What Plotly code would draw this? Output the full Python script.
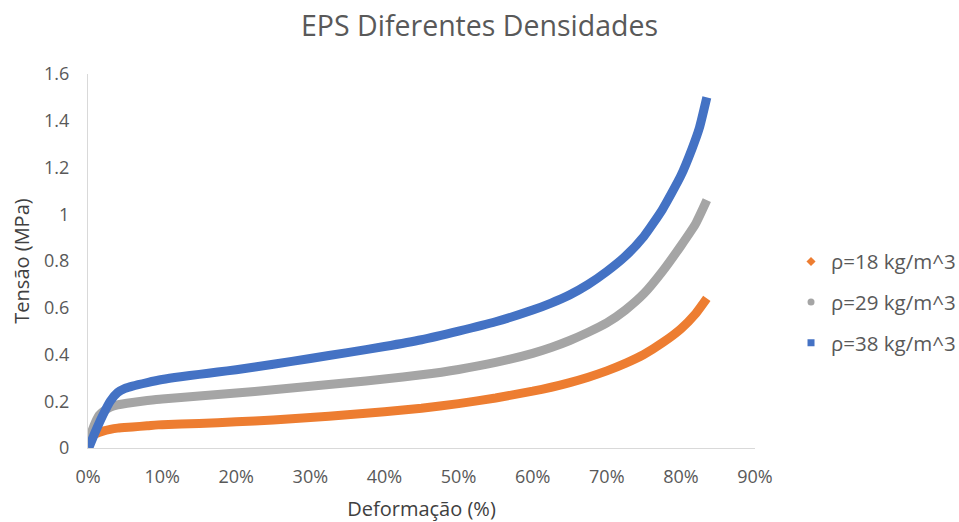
import plotly.graph_objects as go

# Stress-strain curves of EPS at three densities (strain as fraction, stress in MPa)
strain_18 = [0.0, 0.005, 0.01, 0.02, 0.03, 0.04, 0.06, 0.08, 0.10, 0.15, 0.20, 0.25, 0.30,
             0.35, 0.40, 0.45, 0.50, 0.55, 0.60, 0.625, 0.65, 0.675, 0.70, 0.725, 0.75,
             0.775, 0.80, 0.82, 0.835]
stress_18 = [0.035, 0.05, 0.06, 0.072, 0.08, 0.085, 0.09, 0.095, 0.10, 0.105, 0.112, 0.12, 0.13,
             0.142, 0.155, 0.17, 0.19, 0.214, 0.243, 0.26, 0.28, 0.303, 0.33, 0.362, 0.40,
             0.45, 0.51, 0.575, 0.64]

strain_29 = [0.001, 0.005, 0.01, 0.015, 0.02, 0.03, 0.04, 0.06, 0.08, 0.10, 0.15, 0.20, 0.25,
             0.30, 0.35, 0.40, 0.45, 0.50, 0.55, 0.60, 0.625, 0.65, 0.675, 0.70, 0.725, 0.75,
             0.775, 0.80, 0.82, 0.835]
stress_29 = [0.03, 0.07, 0.11, 0.14, 0.155, 0.175, 0.185, 0.195, 0.203, 0.21, 0.222, 0.235, 0.249,
             0.264, 0.279, 0.295, 0.313, 0.336, 0.366, 0.405, 0.43, 0.46, 0.495, 0.535, 0.59, 0.66,
             0.755, 0.865, 0.96, 1.06]

strain_38 = [0.001, 0.01, 0.02, 0.03, 0.04, 0.05, 0.06, 0.08, 0.10, 0.125, 0.15, 0.175, 0.20,
             0.25, 0.30, 0.35, 0.40, 0.45, 0.50, 0.55, 0.60, 0.625, 0.65, 0.675, 0.70, 0.725,
             0.75, 0.775, 0.80, 0.815, 0.825, 0.835]
stress_38 = [0.0, 0.07, 0.14, 0.20, 0.237, 0.255, 0.265, 0.28, 0.293, 0.305, 0.315, 0.325, 0.335,
             0.358, 0.383, 0.408, 0.434, 0.463, 0.50, 0.54, 0.59, 0.62, 0.655, 0.70, 0.755, 0.82,
             0.905, 1.02, 1.165, 1.28, 1.37, 1.50]

series_names = ["ρ=18 kg/m^3", "ρ=29 kg/m^3", "ρ=38 kg/m^3"]
series_colors = ["#ED7D31", "#A5A5A5", "#4472C4"]
series_symbols = ["diamond", "circle", "square"]

x_tickvals = [0.0, 0.1, 0.2, 0.3, 0.4, 0.5, 0.6, 0.7, 0.8, 0.9]
x_ticktext = ["0%", "10%", "20%", "30%", "40%", "50%", "60%", "70%", "80%", "90%"]
y_tickvals = [0.0, 0.2, 0.4, 0.6, 0.8, 1.0, 1.2, 1.4, 1.6]
y_ticktext = ["0", "0.2", "0.4", "0.6", "0.8", "1", "1.2", "1.4", "1.6"]

FONT = "Open Sans"
fig = go.Figure()

datasets = [(strain_18, stress_18), (strain_29, stress_29), (strain_38, stress_38)]
for (xs, ys), name, color in zip(datasets, series_names, series_colors):
    fig.add_trace(go.Scatter(
        x=xs, y=ys, mode="lines", name=name, showlegend=False,
        line=dict(color=color, width=9, shape="spline", smoothing=0.5),
        hoverinfo="skip",
    ))

# Legend entries show the marker symbol of each series
for i, (name, color, sym) in enumerate(zip(series_names, series_colors, series_symbols)):
    fig.add_trace(go.Scatter(
        x=[None], y=[None], mode="markers", name=name, legendgroup=f"g{i}",
        marker=dict(color=color, symbol=sym, size=7),
    ))

fig.update_layout(
    width=959, height=522,
    paper_bgcolor="white", plot_bgcolor="white",
    margin=dict(l=88, r=204, t=74, b=74, autoexpand=False),
    title=dict(text="EPS Diferentes Densidades", x=0.5, xref="container", xanchor="center",
               y=0.95, yref="container", yanchor="middle",
               font=dict(family=FONT, size=28.5, color="#595959")),
    font=dict(family=FONT, color="#595959"),
    legend=dict(x=1.054, xanchor="left", y=0.39, yanchor="middle",
                traceorder="grouped", tracegroupgap=11,
                font=dict(family=FONT, size=20.5, color="#595959"),
                bgcolor="rgba(0,0,0,0)"),
    xaxis=dict(range=[0, 0.9], tickvals=x_tickvals, ticktext=x_ticktext,
               showgrid=False, zeroline=False, showline=True, linecolor="#D9D9D9", linewidth=1,
               ticks="", ticklabelstandoff=12,
               tickfont=dict(family=FONT, size=18, color="#595959"),
               title=dict(text="Deformação (%)", standoff=18,
                          font=dict(family=FONT, size=20, color="#404040"))),
    yaxis=dict(range=[0, 1.6], tickvals=y_tickvals, ticktext=y_ticktext,
               showgrid=False, zeroline=False, showline=True, linecolor="#D9D9D9", linewidth=1,
               ticks="", ticklabelstandoff=14,
               tickfont=dict(family=FONT, size=18, color="#595959"),
               title=dict(text="Tensão (MPa)", standoff=9,
                          font=dict(family=FONT, size=20, color="#404040"))),
)

fig.write_html("out.html")
